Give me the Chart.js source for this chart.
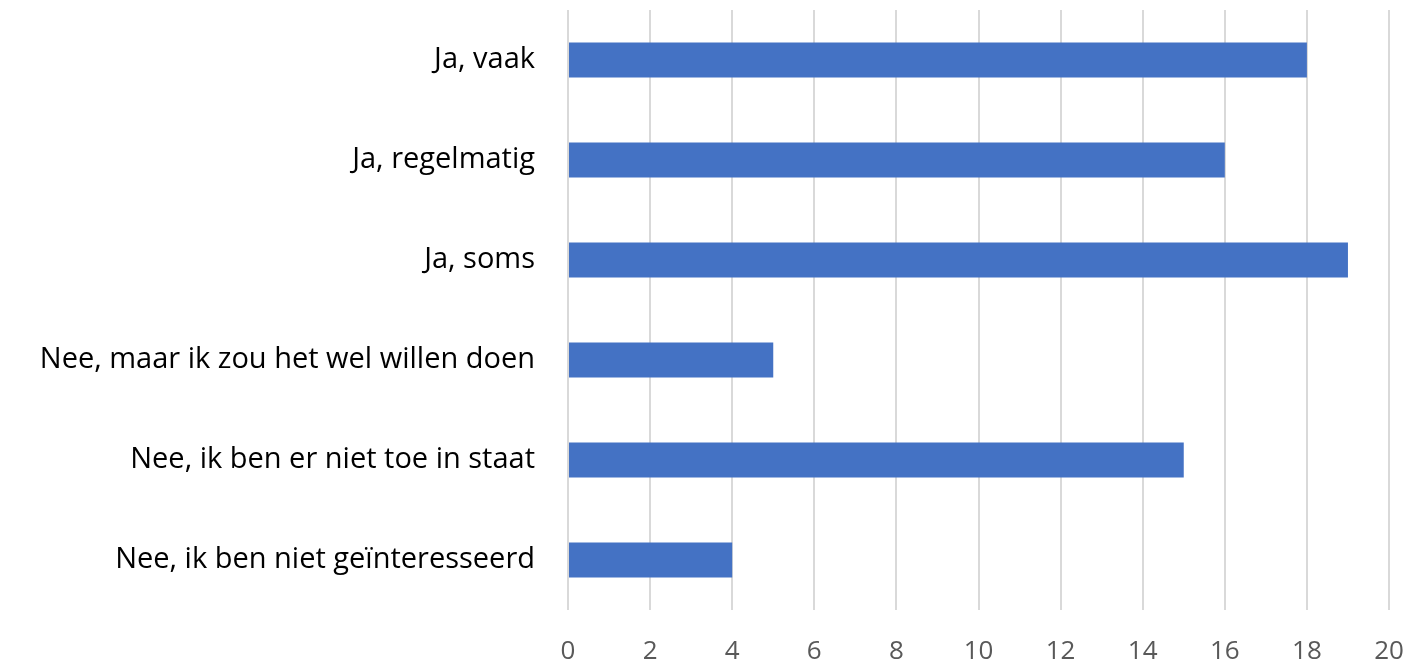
<!DOCTYPE html>
<html>
<head>
<meta charset="utf-8">
<script src="https://cdn.jsdelivr.net/npm/chart.js@4"></script>
<style>
  html, body { margin: 0; padding: 0; background: #fff; }
  #wrap { width: 1410px; height: 666px; }
</style>
</head>
<body>
<div id="wrap"><canvas id="barChart"></canvas></div>
<script>
const categories = [
  'Ja, vaak',
  'Ja, regelmatig',
  'Ja, soms',
  'Nee, maar ik zou het wel willen doen',
  'Nee, ik ben er niet toe in staat',
  'Nee, ik ben niet geïnteresseerd'
];
const counts = [18, 16, 19, 5, 15, 4];
const xTicks = [0, 2, 4, 6, 8, 10, 12, 14, 16, 18, 20];

const ctx = document.getElementById('barChart').getContext('2d');
new Chart(ctx, {
  type: 'bar',
  data: {
    labels: categories,
    datasets: [{
      data: counts,
      backgroundColor: '#4472C4',
      borderWidth: 0,
      barPercentage: 0.35,
      categoryPercentage: 1
    }]
  },
  options: {
    indexAxis: 'y',
    responsive: true,
    maintainAspectRatio: false,
    animation: false,
    layout: { padding: { top: 10, right: 21, left: 0, bottom: 0 } },
    plugins: { legend: { display: false }, tooltip: { enabled: false } },
    scales: {
      x: {
        min: 0,
        max: 20,
        afterBuildTicks: axis => { axis.ticks = xTicks.map(v => ({ value: v })); },
        afterFit: axis => { axis.height = 56; axis.paddingLeft = 0; axis.paddingRight = 0; },
        grid: { color: '#D9D9D9', lineWidth: 2, drawTicks: false },
        border: { display: false },
        ticks: { padding: 26, color: '#595959', font: { family: 'Open Sans', size: 26 } }
      },
      y: {
        afterFit: axis => { axis.width = 568; axis.paddingTop = 0; axis.paddingBottom = 0; },
        grid: { display: false },
        border: { display: false },
        ticks: { padding: 25, color: '#000000', font: { family: 'Open Sans', size: 29 } }
      }
    }
  }
});
</script>
</body>
</html>
